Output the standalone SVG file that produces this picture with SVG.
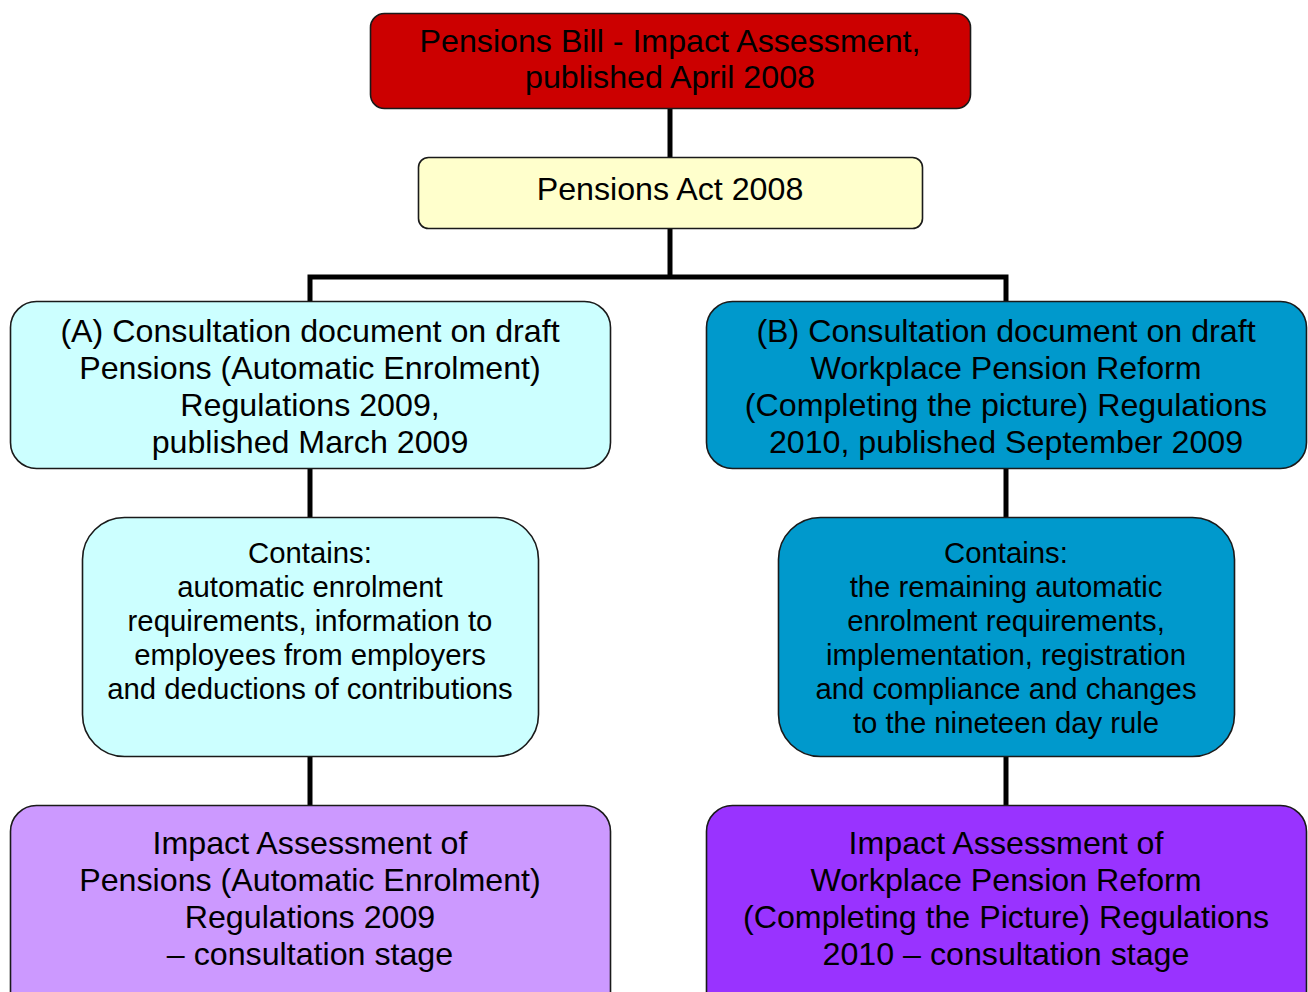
<svg xmlns="http://www.w3.org/2000/svg" width="1308" height="992" viewBox="0 0 1308 992">
<style>
.box{stroke:#1a1a1a;stroke-width:1.6}
.t{font-family:"Liberation Sans",Arial,sans-serif;font-size:32.2px;fill:#000;text-anchor:middle}
.s{font-family:"Liberation Sans",Arial,sans-serif;font-size:29.3px;fill:#000;text-anchor:middle}
.c{stroke:#000;stroke-width:5;fill:none}
</style>
<rect width="1308" height="992" fill="#fff"/>
<g id="connectors">
<line class="c" x1="670" y1="109" x2="670" y2="157"/>
<line class="c" x1="670" y1="229" x2="670" y2="277"/>
<polyline class="c" points="310,301 310,277 1006,277 1006,301"/>
<line class="c" x1="310" y1="469" x2="310" y2="517"/>
<line class="c" x1="310" y1="757" x2="310" y2="805"/>
<line class="c" x1="1006" y1="469" x2="1006" y2="517"/>
<line class="c" x1="1006" y1="757" x2="1006" y2="805"/>
</g>
<g id="n1">
<rect class="box" x="370.5" y="13.5" width="600" height="95" rx="14" fill="#CC0000"/>
<text class="t" x="670" y="52">Pensions Bill - Impact Assessment,</text>
<text class="t" x="670" y="88">published April 2008</text>
</g>
<g id="n2">
<rect class="box" x="418.5" y="157.5" width="504" height="71" rx="10" fill="#FFFFCC"/>
<text class="t" x="670" y="200">Pensions Act 2008</text>
</g>
<g id="nA">
<rect class="box" x="10.5" y="301.5" width="600" height="167" rx="26" fill="#CCFFFF"/>
<text class="t" x="310" y="342">(A) Consultation document on draft</text>
<text class="t" x="310" y="379">Pensions (Automatic Enrolment)</text>
<text class="t" x="310" y="416">Regulations 2009,</text>
<text class="t" x="310" y="453">published March 2009</text>
</g>
<g id="nB">
<rect class="box" x="706.5" y="301.5" width="600" height="167" rx="26" fill="#0099CC"/>
<text class="t" x="1006" y="342">(B) Consultation document on draft</text>
<text class="t" x="1006" y="379">Workplace Pension Reform</text>
<text class="t" x="1006" y="416">(Completing the picture) Regulations</text>
<text class="t" x="1006" y="453">2010, published September 2009</text>
</g>
<g id="nA2">
<rect class="box" x="82.5" y="517.5" width="456" height="239" rx="42" fill="#CCFFFF"/>
<text class="s" x="310" y="563">Contains:</text>
<text class="s" x="310" y="597">automatic enrolment</text>
<text class="s" x="310" y="631">requirements, information to</text>
<text class="s" x="310" y="665">employees from employers</text>
<text class="s" x="310" y="699">and deductions of contributions</text>
</g>
<g id="nB2">
<rect class="box" x="778.5" y="517.5" width="456" height="239" rx="42" fill="#0099CC"/>
<text class="s" x="1006" y="563">Contains:</text>
<text class="s" x="1006" y="597">the remaining automatic</text>
<text class="s" x="1006" y="631">enrolment requirements,</text>
<text class="s" x="1006" y="665">implementation, registration</text>
<text class="s" x="1006" y="699">and compliance and changes</text>
<text class="s" x="1006" y="733">to the nineteen day rule</text>
</g>
<g id="nA3">
<rect class="box" x="10.5" y="805.5" width="600" height="220" rx="26" fill="#CC99FF"/>
<text class="t" x="310" y="854">Impact Assessment of</text>
<text class="t" x="310" y="891">Pensions (Automatic Enrolment)</text>
<text class="t" x="310" y="928">Regulations 2009</text>
<text class="t" x="310" y="965">– consultation stage</text>
</g>
<g id="nB3">
<rect class="box" x="706.5" y="805.5" width="600" height="220" rx="26" fill="#9933FF"/>
<text class="t" x="1006" y="854">Impact Assessment of</text>
<text class="t" x="1006" y="891">Workplace Pension Reform</text>
<text class="t" x="1006" y="928">(Completing the Picture) Regulations</text>
<text class="t" x="1006" y="965">2010 – consultation stage</text>
</g>
</svg>
